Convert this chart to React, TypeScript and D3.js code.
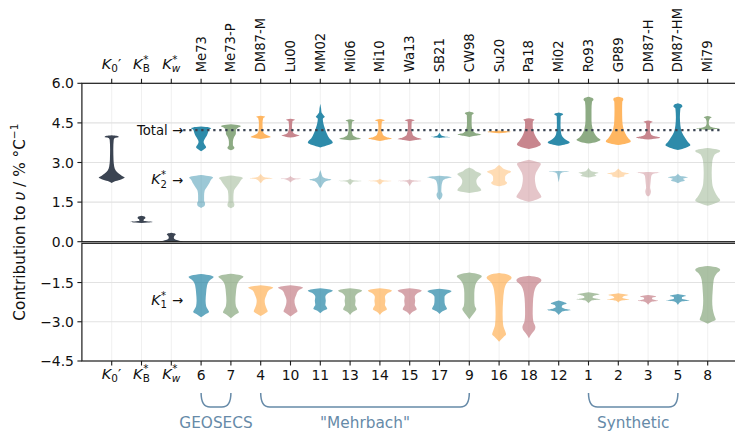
import React from 'react';
import * as d3 from 'd3';

type V = [number, number][];

const columns = ["K0", "KB", "Kw", "Me73", "Me73-P", "DM87-M", "Lu00", "MM02", "Mi06", "Mi10", "Wa13", "SB21", "CW98", "Su20", "Pa18", "Mi02", "Ro93", "GP89", "DM87-H", "DM87-HM", "Mi79"];
const studies = columns.slice(3);
const studyNumbers = ["6", "7", "4", "10", "11", "13", "14", "15", "17", "9", "16", "18", "12", "1", "2", "3", "5", "8"];
const topTicks = [0, 1.5, 3, 4.5, 6];
const bottomTicks = [-4.5, -3, -1.5];
const totalMean = 4.23;
const totalLineFrom = 2.4;
const totalLineTo = 20.5;

// [value, density] profiles
const k0Violin: V = [[4.03, 0], [4.01, 5], [3.97, 7], [3.93, 3], [3.85, 2], [3.5, 1.6], [3.1, 1.8], [2.85, 2.5], [2.7, 4], [2.58, 7], [2.5, 10], [2.43, 13], [2.37, 10], [2.3, 4], [2.22, 0]];
const kbViolin: V = [[0.98, 0], [0.95, 3], [0.9, 4], [0.85, 2.5], [0.8, 2], [0.77, 5], [0.75, 11], [0.73, 6], [0.71, 0]];
const kwViolin: V = [[0.34, 0], [0.31, 3.5], [0.27, 4.5], [0.22, 3], [0.15, 2.5], [0.08, 4], [0.04, 8], [0.02, 12], [0.0, 0]];

const totalViolins: V[] = [
  [[4.36, 0], [4.33, 8], [4.3, 10], [4.25, 8], [4.15, 7], [4.0, 5.5], [3.88, 3.5], [3.78, 2.5], [3.68, 3.5], [3.58, 5], [3.5, 3], [3.43, 0]],
  [[4.45, 0], [4.41, 8], [4.37, 10], [4.32, 7], [4.22, 5], [4.1, 5], [3.95, 3], [3.8, 2], [3.65, 2], [3.56, 3.5], [3.5, 2.5], [3.46, 0]],
  [[4.77, 0], [4.73, 4.5], [4.68, 2.5], [4.5, 1.8], [4.25, 2], [4.12, 3], [4.04, 6], [3.97, 10], [3.93, 6], [3.89, 0]],
  [[4.66, 0], [4.62, 4.5], [4.57, 2], [4.35, 1.5], [4.15, 2.5], [4.07, 5], [4.02, 9], [3.98, 5], [3.95, 0]],
  [[5.23, 0], [5.05, 0.8], [4.9, 1.2], [4.8, 3], [4.73, 4.5], [4.65, 2.5], [4.5, 3], [4.3, 4.5], [4.1, 6.5], [3.92, 9], [3.76, 12.5], [3.66, 8], [3.57, 0]],
  [[4.64, 0], [4.59, 4.5], [4.54, 2], [4.3, 1.5], [4.05, 2.5], [3.96, 6], [3.9, 11], [3.86, 5], [3.84, 0]],
  [[4.65, 0], [4.6, 5], [4.55, 2], [4.3, 1.5], [4.05, 3], [3.96, 7], [3.91, 12], [3.86, 6], [3.81, 0]],
  [[4.65, 0], [4.6, 5], [4.55, 2], [4.3, 1.8], [4.05, 3], [3.95, 7], [3.89, 12], [3.85, 6], [3.81, 0]],
  [[4.13, 0], [4.07, 1], [4.02, 2], [3.98, 6], [3.97, 11], [3.95, 3], [3.93, 0]],
  [[4.93, 0], [4.87, 4.5], [4.8, 2.5], [4.5, 2.3], [4.25, 3], [4.12, 6], [4.06, 12], [4.01, 6], [3.97, 0]],
  [[4.21, 0], [4.19, 7], [4.16, 11.5], [4.13, 6], [4.11, 0]],
  [[4.68, 0], [4.63, 5.5], [4.56, 4], [4.4, 3.8], [4.2, 4.5], [4.0, 6.5], [3.82, 9.5], [3.68, 12], [3.59, 8], [3.51, 0]],
  [[4.89, 0], [4.83, 4.5], [4.76, 2], [4.4, 1.8], [4.1, 2.5], [3.95, 4.5], [3.84, 8], [3.76, 11], [3.69, 7], [3.63, 0]],
  [[5.49, 0], [5.44, 4], [5.38, 5], [5.3, 3.5], [5.0, 3], [4.6, 3], [4.3, 4], [4.1, 6], [3.95, 9], [3.86, 12], [3.78, 8], [3.72, 0]],
  [[5.49, 0], [5.44, 4.5], [5.38, 5], [5.3, 4], [5.0, 3.8], [4.6, 4], [4.3, 5], [4.1, 7], [3.92, 10], [3.8, 12.5], [3.72, 8], [3.66, 0]],
  [[4.59, 0], [4.54, 4.5], [4.48, 2], [4.2, 1.8], [4.06, 3], [3.99, 7], [3.94, 12], [3.9, 6], [3.87, 0]],
  [[5.24, 0], [5.18, 4], [5.12, 4.5], [5.05, 2.5], [4.7, 2], [4.4, 2.5], [4.15, 4], [3.95, 7], [3.78, 10], [3.66, 12.5], [3.56, 8], [3.47, 0]],
  [[4.76, 0], [4.71, 4], [4.66, 2], [4.5, 1], [4.38, 2], [4.32, 6], [4.29, 12], [4.26, 6], [4.23, 0]],
];

const k2Violins: V[] = [
  [[2.53, 0], [2.48, 9], [2.43, 12], [2.35, 10], [2.2, 8], [2.05, 5.5], [1.92, 3.5], [1.75, 3], [1.55, 3], [1.45, 4], [1.36, 3.5], [1.28, 0]],
  [[2.51, 0], [2.46, 9], [2.41, 12], [2.33, 10], [2.2, 8], [2.05, 5], [1.92, 3], [1.7, 2.5], [1.5, 2.5], [1.42, 3.5], [1.33, 3], [1.27, 0]],
  [[2.57, 0], [2.5, 1.5], [2.44, 4], [2.4, 12], [2.36, 4], [2.28, 1.5], [2.21, 0]],
  [[2.5, 0], [2.44, 1.5], [2.4, 4], [2.38, 11], [2.35, 4], [2.29, 1.2], [2.24, 0]],
  [[2.72, 0], [2.6, 1], [2.48, 2], [2.4, 5], [2.35, 11], [2.3, 6], [2.2, 3], [2.1, 1.5], [2.03, 0]],
  [[2.38, 0], [2.33, 3], [2.3, 12], [2.27, 3], [2.2, 1.5], [2.15, 0]],
  [[2.38, 0], [2.33, 3], [2.3, 12], [2.27, 3], [2.2, 1.5], [2.16, 0]],
  [[2.37, 0], [2.33, 3], [2.3, 12], [2.27, 3], [2.2, 1.5], [2.1, 0]],
  [[2.5, 0], [2.47, 9], [2.44, 12], [2.38, 6], [2.28, 3], [2.1, 2], [1.9, 1.8], [1.78, 3], [1.66, 2], [1.58, 0]],
  [[2.81, 0], [2.76, 3], [2.68, 6], [2.56, 12], [2.45, 9], [2.3, 7], [2.15, 8], [2.02, 11], [1.95, 12], [1.88, 6], [1.84, 0]],
  [[2.91, 0], [2.85, 2], [2.75, 5], [2.65, 12], [2.58, 9], [2.45, 6], [2.32, 6], [2.23, 8], [2.16, 6], [2.1, 0]],
  [[3.1, 0], [3.05, 6], [2.95, 12], [2.8, 10], [2.6, 7], [2.4, 6], [2.2, 6.5], [2.0, 8], [1.82, 11], [1.7, 12.5], [1.6, 8], [1.51, 0]],
  [[2.68, 0], [2.66, 11], [2.63, 4], [2.55, 1.5], [2.4, 0.8], [2.25, 0]],
  [[2.8, 0], [2.72, 1.5], [2.66, 4], [2.61, 10], [2.55, 6], [2.5, 8], [2.46, 4], [2.43, 0]],
  [[2.77, 0], [2.7, 2], [2.63, 5], [2.58, 11], [2.53, 6], [2.48, 6], [2.44, 2], [2.42, 0]],
  [[2.64, 0], [2.62, 11.5], [2.57, 5], [2.45, 3], [2.25, 2.5], [2.05, 2], [1.9, 2.8], [1.78, 2], [1.71, 0]],
  [[2.58, 0], [2.5, 2], [2.44, 10], [2.38, 5], [2.32, 7], [2.27, 3], [2.21, 0]],
  [[3.55, 0], [3.5, 9], [3.44, 12.5], [3.3, 7], [3.0, 4.5], [2.6, 4], [2.2, 4.5], [1.9, 7], [1.7, 10], [1.56, 12.5], [1.45, 7], [1.36, 0]],
];

const k1Violins: V[] = [
  [[-1.17, 0], [-1.22, 9], [-1.29, 12.5], [-1.4, 9], [-1.6, 6], [-1.9, 5], [-2.2, 4.5], [-2.4, 5], [-2.55, 7], [-2.63, 8], [-2.72, 4], [-2.83, 0]],
  [[-1.16, 0], [-1.21, 9], [-1.28, 12.5], [-1.4, 9], [-1.6, 6], [-1.9, 5], [-2.2, 4.5], [-2.4, 5], [-2.55, 7], [-2.64, 8], [-2.74, 4], [-2.87, 0]],
  [[-1.6, 0], [-1.64, 8], [-1.69, 12.5], [-1.8, 8], [-2.0, 5.5], [-2.2, 4], [-2.35, 4.5], [-2.5, 6], [-2.6, 7], [-2.7, 3.5], [-2.78, 0]],
  [[-1.6, 0], [-1.64, 8], [-1.69, 12.5], [-1.8, 8], [-2.0, 5.5], [-2.2, 4], [-2.35, 4.5], [-2.5, 6], [-2.6, 7], [-2.7, 3.5], [-2.8, 0]],
  [[-1.72, 0], [-1.76, 8], [-1.81, 12.5], [-1.9, 8], [-2.05, 5], [-2.2, 5.5], [-2.35, 5], [-2.45, 6.5], [-2.5, 7], [-2.58, 3], [-2.67, 0]],
  [[-1.72, 0], [-1.76, 8], [-1.81, 12], [-1.9, 8], [-2.05, 5], [-2.2, 5.5], [-2.35, 5], [-2.46, 6.5], [-2.52, 7], [-2.62, 3], [-2.74, 0]],
  [[-1.72, 0], [-1.76, 8], [-1.81, 12], [-1.9, 8], [-2.05, 5], [-2.2, 5.5], [-2.35, 5], [-2.46, 6.5], [-2.52, 7], [-2.62, 3], [-2.74, 0]],
  [[-1.72, 0], [-1.76, 8], [-1.81, 12], [-1.9, 8], [-2.05, 5], [-2.2, 5.5], [-2.35, 5], [-2.46, 6.5], [-2.52, 7], [-2.62, 3], [-2.74, 0]],
  [[-1.74, 0], [-1.78, 8], [-1.83, 12], [-1.92, 8], [-2.05, 5], [-2.2, 5], [-2.35, 5.5], [-2.45, 7], [-2.5, 7.5], [-2.6, 3], [-2.7, 0]],
  [[-1.12, 0], [-1.18, 9], [-1.26, 12.5], [-1.4, 9], [-1.6, 6], [-1.9, 5], [-2.2, 5], [-2.4, 5.5], [-2.52, 7], [-2.6, 6], [-2.75, 3], [-2.9, 0]],
  [[-1.14, 0], [-1.2, 9], [-1.32, 12.5], [-1.5, 8], [-1.8, 5], [-2.2, 4], [-2.7, 3.5], [-3.1, 4], [-3.35, 6], [-3.48, 7], [-3.6, 4], [-3.76, 0]],
  [[-1.24, 0], [-1.3, 9], [-1.42, 12.5], [-1.6, 8], [-1.9, 5], [-2.3, 4], [-2.7, 3.8], [-3.0, 4.5], [-3.2, 6.5], [-3.3, 6], [-3.45, 3], [-3.63, 0]],
  [[-2.19, 0], [-2.24, 5], [-2.3, 8], [-2.36, 4], [-2.44, 3], [-2.5, 6], [-2.55, 12], [-2.6, 4], [-2.66, 2], [-2.74, 0]],
  [[-1.87, 0], [-1.91, 6], [-1.95, 11], [-2.0, 6], [-2.06, 4], [-2.11, 7], [-2.14, 12], [-2.18, 4], [-2.23, 1.5], [-2.29, 0]],
  [[-1.91, 0], [-1.94, 5], [-1.98, 10], [-2.03, 5], [-2.08, 4], [-2.12, 7], [-2.15, 11], [-2.19, 3], [-2.27, 0]],
  [[-1.98, 0], [-2.0, 4], [-2.03, 8], [-2.08, 4], [-2.13, 4], [-2.17, 7], [-2.2, 10], [-2.24, 3], [-2.35, 0]],
  [[-1.94, 0], [-1.97, 4], [-2.01, 8], [-2.07, 4], [-2.12, 4], [-2.16, 8], [-2.19, 11.5], [-2.23, 3], [-2.36, 0]],
  [[-0.87, 0], [-0.92, 9], [-1.02, 12.5], [-1.15, 9], [-1.4, 6], [-1.8, 5], [-2.2, 4.5], [-2.5, 5], [-2.75, 6.5], [-2.92, 8], [-3.0, 4], [-3.08, 0]],
];

const groups = [
  { label: 'GEOSECS', from: 'Me73', to: 'Me73-P' },
  { label: '"Mehrbach"', from: 'DM87-M', to: 'CW98' },
  { label: 'Synthetic', from: 'Ro93', to: 'DM87-HM' },
];

const palette = ['#2385a5', '#87a67d', '#ffb258', '#c57f88'];
const dark = '#3b4452';
const groupColor = '#668aa8';
const FONT = 'DejaVu Sans';

const W = 735, H = 432;
const x = d3.scalePoint<string>().domain(columns).range([81.9, 737.5]).padding(1);
const yTop = d3.scaleLinear().domain([0, 6]).range([241.7, 83.3]);
const yBot = d3.scaleLinear().domain([-4.5, 0]).range([361, 243.3]);
const wScale = d3.scaleLinear().domain([0, 12.5]).range([0, 12.5]);

function violinPath(data: V, cx: number, ys: d3.ScaleLinear<number, number>) {
  return d3.area<[number, number]>()
    .y(d => ys(d[0]))
    .x0(d => cx - wScale(d[1]))
    .x1(d => cx + wScale(d[1]))
    .curve(d3.curveMonotoneY)(data) || '';
}

// K with subscript, optional superscript star and prime, as a single text element
function MathK({ x: px, y, sub, subItalic = false, sup = false, prime = false, fs, anchor = 'middle' }:
  { x: number; y: number; sub: string; subItalic?: boolean; sup?: boolean; prime?: boolean; fs: number; anchor?: string }) {
  const sfs = 0.72 * fs;
  const kW = 0.66 * fs;
  const subW = (sub === 'w' ? 0.82 : sub === 'B' ? 0.69 : 0.64) * sfs;
  const supW = sup ? 0.5 * sfs : 0;
  const total = kW + Math.max(subW, supW) + (prime ? 0.25 * fs : 0);
  const sx = anchor === 'middle' ? px - total / 2 : anchor === 'end' ? px - total : px;
  const down = 0.24 * fs, up = 0.42 * fs;
  return (
    <text x={sx} y={y} fontSize={fs} fill="#111" fontFamily={FONT}>
      <tspan fontStyle="italic">K</tspan>
      <tspan dy={down} fontSize={sfs} fontStyle={subItalic ? 'italic' : 'normal'}>{sub}</tspan>
      {sup && <tspan dx={-subW + 0.04 * fs} dy={-down - up} fontSize={sfs}>*</tspan>}
      {prime && <tspan dy={-down} fontSize={fs}>′</tspan>}
    </text>
  );
}

const kLabels = [
  { col: 'K0', sub: '0', subItalic: false, sup: false, prime: true },
  { col: 'KB', sub: 'B', subItalic: false, sup: true, prime: false },
  { col: 'Kw', sub: 'w', subItalic: true, sup: true, prime: false },
];

export default function App() {
  const left = 81.9, right = 737.5;
  const fmt = d3.format('.1f');
  const xIdx = d3.scaleLinear().domain([0, columns.length - 1]).range([x(columns[0])!, x(columns[columns.length - 1])!]);
  return (
    <svg width={W} height={H} style={{ position: 'absolute', left: 0, top: 0, background: '#fff' }} fontFamily={FONT}>
      {/* grids */}
      {columns.map(c => (
        <g key={'vg' + c}>
          <line x1={x(c)} x2={x(c)} y1={yTop(6)} y2={yTop(0)} stroke="#f0f0f0" strokeWidth={1} />
          <line x1={x(c)} x2={x(c)} y1={yBot(0)} y2={yBot(-4.5)} stroke="#f0f0f0" strokeWidth={1} />
        </g>
      ))}
      {topTicks.filter(t => t > 0 && t < 6).map(t => (
        <line key={'hg' + t} x1={left} x2={right} y1={yTop(t)} y2={yTop(t)} stroke="#e2e2e2" strokeWidth={1.1} />
      ))}
      {bottomTicks.filter(t => t > -4.5).map(t => (
        <line key={'hgb' + t} x1={left} x2={right} y1={yBot(t)} y2={yBot(t)} stroke="#e2e2e2" strokeWidth={1.1} />
      ))}

      {/* violins */}
      <path d={violinPath(k0Violin, x('K0')!, yTop)} fill={dark} />
      <path d={violinPath(kbViolin, x('KB')!, yTop)} fill={dark} />
      <path d={violinPath(kwViolin, x('Kw')!, yTop)} fill={dark} />
      {studies.map((s, i) => (
        <g key={s}>
          <path d={violinPath(k2Violins[i], x(s)!, yTop)} fill={palette[i % 4]} fillOpacity={0.45} />
          <path d={violinPath(totalViolins[i], x(s)!, yTop)} fill={palette[i % 4]} fillOpacity={0.95} />
          <path d={violinPath(k1Violins[i], x(s)!, yBot)} fill={palette[i % 4]} fillOpacity={0.7} />
        </g>
      ))}

      {/* total line */}
      <line x1={xIdx(totalLineFrom)} x2={xIdx(totalLineTo)} y1={yTop(totalMean)} y2={yTop(totalMean)}
        stroke={dark} strokeWidth={2.3} strokeDasharray="2.3 3.7" />

      {/* annotations */}
      <text x={183} y={yTop(totalMean) + 4.8} fontSize={13.2} textAnchor="end" fill="#111">Total →</text>
      <MathK x={167} y={yTop(2.33) + 4} sub="2" sup fs={14} anchor="end" />
      <text x={183} y={yTop(2.33) + 4.5} fontSize={13.2} textAnchor="end" fill="#111">→</text>
      <MathK x={167} y={yBot(-2.2) + 4} sub="1" sup fs={14} anchor="end" />
      <text x={183} y={yBot(-2.2) + 4.5} fontSize={13.2} textAnchor="end" fill="#111">→</text>

      {/* spines */}
      <rect x={left} y={yTop(6)} width={right - left} height={yTop(0) - yTop(6)} fill="none" stroke="#1a1a1a" strokeWidth={1.2} />
      <rect x={left} y={yBot(0)} width={right - left} height={yBot(-4.5) - yBot(0)} fill="none" stroke="#1a1a1a" strokeWidth={1.2} />

      {/* y ticks */}
      {topTicks.map(t => (
        <g key={'yt' + t}>
          <line x1={left - 4.5} x2={left} y1={yTop(t)} y2={yTop(t)} stroke="#1a1a1a" strokeWidth={1.1} />
          <text x={left - 8} y={yTop(t)} fontSize={13.9} textAnchor="end" dominantBaseline="central" fill="#111">{fmt(t)}</text>
        </g>
      ))}
      {bottomTicks.map(t => (
        <g key={'ybt' + t}>
          <line x1={left - 4.5} x2={left} y1={yBot(t)} y2={yBot(t)} stroke="#1a1a1a" strokeWidth={1.1} />
          <text x={left - 8} y={yBot(t)} fontSize={13.9} textAnchor="end" dominantBaseline="central" fill="#111">{fmt(t)}</text>
        </g>
      ))}

      {/* top x ticks & labels */}
      {columns.map(c => (
        <line key={'tt' + c} x1={x(c)} x2={x(c)} y1={yTop(6) - 4.5} y2={yTop(6)} stroke="#1a1a1a" strokeWidth={1.1} />
      ))}
      {studies.map(s => (
        <text key={'tl' + s} transform={`translate(${x(s)},${yTop(6) - 11}) rotate(-90)`} fontSize={13.2} dominantBaseline="central" fill="#111">{s}</text>
      ))}
      {kLabels.map(k => (
        <MathK key={'tk' + k.col} x={x(k.col)!} y={69} sub={k.sub} subItalic={k.subItalic} sup={k.sup} prime={k.prime} fs={14.5} />
      ))}

      {/* bottom x ticks & labels */}
      {columns.map(c => (
        <line key={'bt' + c} x1={x(c)} x2={x(c)} y1={yBot(-4.5)} y2={yBot(-4.5) + 4.5} stroke="#1a1a1a" strokeWidth={1.1} />
      ))}
      {studies.map((s, i) => (
        <text key={'bl' + s} x={x(s)} y={380} fontSize={13.9} textAnchor="middle" fill="#111">{studyNumbers[i]}</text>
      ))}
      {kLabels.map(k => (
        <MathK key={'bk' + k.col} x={x(k.col)!} y={378.5} sub={k.sub} subItalic={k.subItalic} sup={k.sup} prime={k.prime} fs={14.5} />
      ))}

      {/* groups */}
      {groups.map(g => {
        const x0 = x(g.from)!, x1 = x(g.to)!;
        const yT = 393, yB = 407, r = 9;
        const d = `M${x0},${yT} Q${x0},${yB} ${x0 + r},${yB} L${x1 - r},${yB} Q${x1},${yB} ${x1},${yT}`;
        return (
          <g key={g.label}>
            <path d={d} fill="none" stroke={groupColor} strokeWidth={1.5} />
            <text x={(x0 + x1) / 2} y={428} fontSize={15.3} textAnchor="middle" fill={groupColor}>{g.label}</text>
          </g>
        );
      })}

      {/* y label */}
      <text transform={`translate(19.5,${(yTop(6) + yBot(-4.5)) / 2}) rotate(-90)`} fontSize={15.3} textAnchor="middle" dominantBaseline="central" fill="#111">
        Contribution to <tspan fontStyle="italic">υ</tspan> / % °C<tspan dy={-6} fontSize={10.5}>−1</tspan>
      </text>
    </svg>
  );
}
